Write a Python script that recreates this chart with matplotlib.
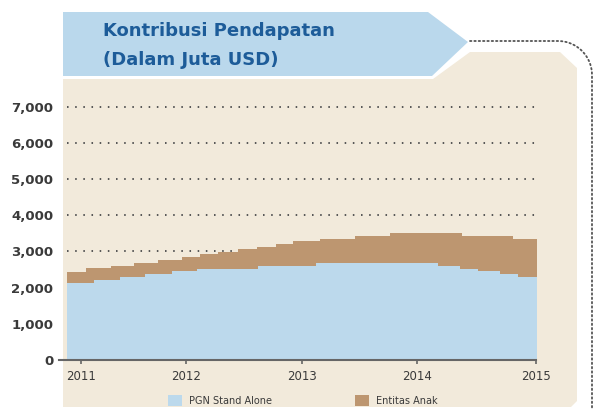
"""Kontribusi Pendapatan (Dalam Juta USD) - stepped stacked area, saved to out.png."""

import matplotlib

matplotlib.use("Agg")
import matplotlib.pyplot as plt
import numpy as np
from matplotlib.patches import Polygon

# step edges (fractional years) and values (USD mn)
total_edges = [2010.88, 2011.04, 2011.26, 2011.47, 2011.68, 2011.89, 2012.05, 2012.20, 2012.38,
               2012.55, 2012.71, 2012.86, 2013.10, 2013.41, 2013.72, 2014.35, 2014.80, 2015.01]
total_vals = [2440, 2530, 2605, 2690, 2760, 2855, 2930, 2975, 3060,
              3130, 3205, 3280, 3345, 3435, 3500, 3425, 3350]  # PGN + Entitas Anak

pgn_edges = [2010.88, 2011.11, 2011.34, 2011.56, 2011.80, 2012.02, 2012.56,
             2013.07, 2014.14, 2014.33, 2014.49, 2014.68, 2014.84, 2015.01]
pgn_vals = [2120, 2210, 2300, 2375, 2460, 2515, 2595, 2670, 2605, 2520, 2450, 2385, 2300]

years = ["2011", "2012", "2013", "2014", "2015"]
year_pos = [2011.0, 2011.92, 2012.94, 2013.95, 2015.0]
yticks = [0, 1000, 2000, 3000, 4000, 5000, 6000, 7000]
ylabels = ["0", "1,000", "2,000", "3,000", "4,000", "5,000", "6,000", "7,000"]

BLUE = "#bcd9ec"
BROWN = "#bd9670"
BEIGE = "#f2eadb"
HEADER = "#bad8ec"
TITLE = "#1d5c99"
DARK = "#3a3a3a"

W, H = 595, 409
fig = plt.figure(figsize=(W / 100, H / 100), dpi=100)

# decoration layer in pixel coordinates
bg = fig.add_axes([0, 0, 1, 1], zorder=0)
bg.set_xlim(0, W)
bg.set_ylim(H, 0)
bg.axis("off")
bg.add_patch(Polygon([(63, 79), (433, 79), (470, 52), (560, 52), (577, 68), (577, 401),
                      (571, 407), (63, 407)], closed=True, color=BEIGE, lw=0))
bg.add_patch(Polygon([(63, 12), (428, 12), (468, 42), (432, 76), (63, 76)],
                     closed=True, color=HEADER, lw=0))
ang = np.linspace(np.pi / 2, 0, 20)
dx = np.concatenate([[470], 558 + 34 * np.cos(ang), [592]])
dy = np.concatenate([[41], 75 - 34 * np.sin(ang), [409]])
bg.plot(dx, dy, color="#555555", lw=1.3, ls=(0, (0.8, 1.6)), dash_capstyle="round")
bg.text(103, 31, "Kontribusi Pendapatan", color=TITLE, fontsize=13, fontweight="bold",
        va="center", ha="left")
bg.text(103, 60, "(Dalam Juta USD)", color=TITLE, fontsize=13, fontweight="bold",
        va="center", ha="left")

# chart
ax = fig.add_axes([59 / W, (H - 360) / H, 481 / W, 260 / H], zorder=1)
ax.set_facecolor("none")
ax.set_xlim(2010.8066, 2015.035)
ax.set_ylim(0, 7182)

ax.hlines(yticks[1:], total_edges[0], 2014.99, color="#555555", lw=1.4,
          linestyles=[(0, (0.8, 3.4))], zorder=1)

te = np.array(total_edges)
tv = np.append(total_vals, total_vals[-1])
pe = np.array(pgn_edges)
pv = np.append(pgn_vals, pgn_vals[-1])
ax.fill_between(te, 0, tv, step="post", color=BROWN, lw=0, zorder=2, label="Entitas Anak")
ax.fill_between(pe, 0, pv, step="post", color=BLUE, lw=0, zorder=3, label="PGN Stand Alone")

for s in ["top", "right", "left"]:
    ax.spines[s].set_visible(False)
ax.spines["bottom"].set_color("#666666")
ax.spines["bottom"].set_linewidth(1.5)
ax.spines["bottom"].set_bounds(2010.8066, 2015.0)
ax.spines["bottom"].set_zorder(4)

ax.set_xticks(year_pos, years, fontsize=8.5, color=DARK)
ax.tick_params(axis="x", length=3, width=1.2, color="#666666", pad=4)
ax.set_yticks(yticks, ylabels, fontsize=9.5, fontweight="bold", color=DARK)
ax.tick_params(axis="y", length=0, pad=4)

h, l = ax.get_legend_handles_labels()
fig.legend([h[1], h[0]], [l[1], l[0]], loc="center left", bbox_to_anchor=(168 / W, 1 - 400.5 / H),
           ncol=2, frameon=False, fontsize=7, borderpad=0, borderaxespad=0,
           handlelength=1.45, handleheight=1.35, handletextpad=0.75, columnspacing=8.5,
           labelcolor=DARK)

fig.savefig("out.png", dpi=100)
